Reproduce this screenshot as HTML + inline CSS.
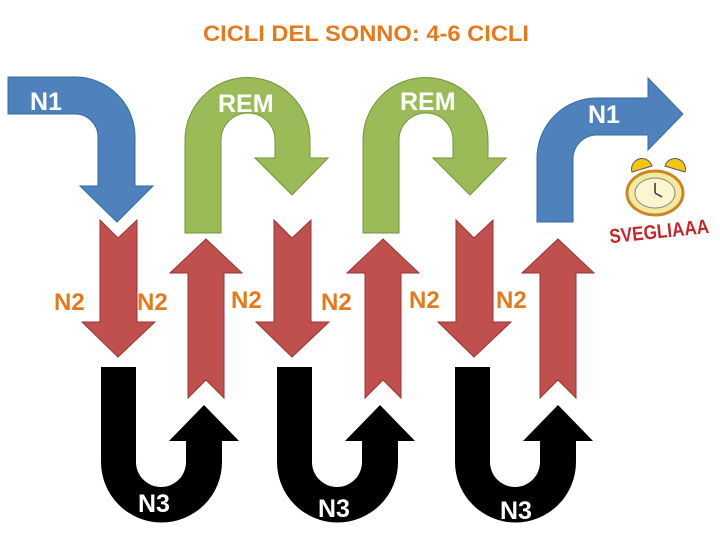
<!DOCTYPE html>
<html><head><meta charset="utf-8"><style>
body{margin:0;background:#fff}
svg{display:block}
text{font-family:"Liberation Sans",sans-serif;font-weight:bold}
</style></head><body>
<svg width="720" height="540" viewBox="0 0 720 540">
<defs>
<path id="down" d="M0,220 L18,238 L37,220 V322 H55 L18,357 L-18,322 H0 Z"/>
<path id="up" d="M0,398 L18,380 L36,398 V273 H54 L18,239 L-18,273 H0 Z"/>
<path id="u" d="M0,367 H35 V462 A25,25 0 0 0 85,462 V441 H68 L103,405 L138,441 H121 V462 A60.5,60.5 0 0 1 0,462 Z"/>
<path id="rem" d="M185,233 V140 A62.5,62.5 0 0 1 310,140 V158 H328 L292,195 L255,158 H275 V140 A27,27 0 0 0 221,140 V233 Z"/>
</defs>
<text x="366" y="41" font-size="22" fill="#e07b20" text-anchor="middle" textLength="326" lengthAdjust="spacingAndGlyphs">CICLI DEL SONNO: 4-6 CICLI</text>

<path d="M8,77 H75 A60,60 0 0 1 135,137 V186 H153 L117,222 L80,186 H98 V137 A23,23 0 0 0 75,114 H8 Z" fill="#4f81bd" stroke="#3a6a9e" stroke-width="1"/>
<use href="#rem" fill="#9bbb59" stroke="#76923c"/>
<use href="#rem" x="178" fill="#9bbb59" stroke="#76923c"/>
<path d="M537,222 V158 A60,60 0 0 1 597,98 H648 V78 L683,114 L648,150 V135 H597 A24,24 0 0 0 573,159 V222 Z" fill="#4f81bd" stroke="#3a6a9e"/>

<g fill="#c0504d" stroke="#943634" stroke-width="1">
<use href="#down" x="100"/><use href="#down" x="274"/><use href="#down" x="456"/>
<use href="#up" x="188"/><use href="#up" x="365"/><use href="#up" x="540"/>
</g>
<g fill="#000">
<use href="#u" x="101"/><use href="#u" x="277"/><use href="#u" x="455"/>
</g>

<g fill="#fff" font-size="25">
<text x="30" y="110">N1</text>
<text x="218" y="112">REM</text>
<text x="400" y="110">REM</text>
<text x="588" y="123">N1</text>
<text x="138" y="512">N3</text>
<text x="318" y="517">N3</text>
<text x="500" y="519">N3</text>
</g>
<g fill="#e07b20" font-size="24">
<text x="54" y="310">N2</text>
<text x="137" y="310">N2</text>
<text x="231" y="308">N2</text>
<text x="321" y="310">N2</text>
<text x="409" y="308">N2</text>
<text x="496" y="308">N2</text>
</g>

<!-- alarm clock -->
<g>
<path d="M632,172 a10,10 0 0 1 20,-6 z" fill="#f5c518" stroke="#555"/>
<path d="M665,166 a10,10 0 0 1 20,6 z" fill="#f5c518" stroke="#555"/>
<ellipse cx="655" cy="193" rx="28" ry="22" fill="#f2ea9e" stroke="#c8872a" stroke-width="3"/>
<ellipse cx="655" cy="193" rx="20" ry="15" fill="#fbf6d0" stroke="#888"/>
<path d="M655,193 V183 M655,193 L662,197" stroke="#333" stroke-width="1.5"/>
<text x="609" y="238" font-size="20" fill="#c0282d" font-family="Liberation Serif,serif" textLength="100" lengthAdjust="spacingAndGlyphs" transform="rotate(-6 660 230)">SVEGLIAAA</text>
</g>
</svg>
</body></html>
